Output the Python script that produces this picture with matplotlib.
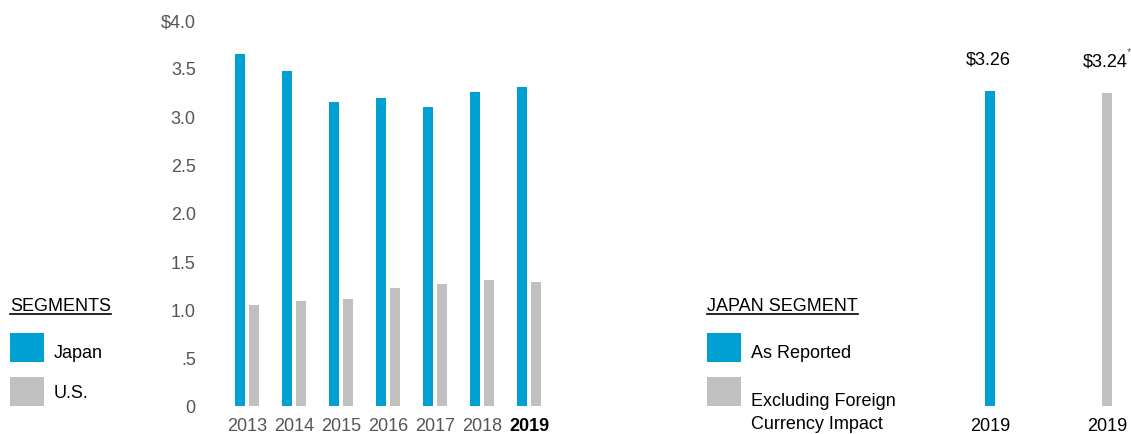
import matplotlib
matplotlib.use("Agg")
import matplotlib.pyplot as plt
from matplotlib.patches import Rectangle
from matplotlib.lines import Line2D
import numpy as np

plt.rcParams['font.family'] = ['Liberation Sans', 'DejaVu Sans']

years = ['2013', '2014', '2015', '2016', '2017', '2018', '2019']
japan = [3.65, 3.47, 3.15, 3.19, 3.10, 3.25, 3.30]
us = [1.05, 1.09, 1.11, 1.22, 1.26, 1.30, 1.28]
y_ticks = [0, 0.5, 1.0, 1.5, 2.0, 2.5, 3.0, 3.5, 4.0]
y_labels = ['0', '.5', '1.0', '1.5', '2.0', '2.5', '3.0', '3.5', '$4.0']

japan_2019 = ['2019', '2019']
japan_2019_vals = [3.26, 3.24]
japan_2019_labels = ['$3.26', '$3.24']

BLUE = '#00a0d2'
GRAY = '#c0c0c0'
TICK = '#555555'

W, H = 1131, 435
fig = plt.figure(figsize=(W / 100, H / 100), dpi=100)


def fx(px):
    return px / W


def fy(py):
    return 1 - py / H


# left chart
y0, y4 = 407, 20.7
ax = fig.add_axes([fx(200), fy(y0), fx(352.5), (y0 - y4) / H])
x = np.arange(len(years))
ax.bar(x - 0.149, japan, width=0.213, color=BLUE)
ax.bar(x + 0.149, us, width=0.213, color=GRAY)
ax.set_xlim(-1, 6.5)
ax.set_ylim(0, 4)
ax.set_yticks(y_ticks)
ax.set_yticklabels(y_labels)
ax.set_xticks(x)
ax.set_xticklabels(years)
ax.tick_params(length=0, labelsize=13, colors=TICK)
ax.tick_params(axis='y', pad=3)
ax.tick_params(axis='x', pad=8)
last = ax.get_xticklabels()[-1]
last.set_color('black')
last.set_fontweight('bold')
for s in ax.spines.values():
    s.set_visible(False)

# right chart
ax2 = fig.add_axes([fx(950), fy(y0), fx(181), (y0 - y4) / H])
x2 = np.arange(len(japan_2019_vals))
ax2.bar(x2, japan_2019_vals, width=0.0855, color=[BLUE, GRAY])
ax2.set_xlim(-0.342, 1.205)
ax2.set_ylim(0, 4)
ax2.set_yticks([])
ax2.set_xticks(x2)
ax2.set_xticklabels(japan_2019)
ax2.tick_params(length=0, labelsize=13, colors='black', pad=8)
for s in ax2.spines.values():
    s.set_visible(False)
for xi, v, lab in zip(x2, japan_2019_vals, japan_2019_labels):
    ax2.annotate(lab, (xi, v), xytext=(-1, 23), textcoords='offset points',
                 ha='center', va='center', fontsize=13, color='black')
ax2.annotate('*', (1, japan_2019_vals[1]), xytext=(16, 30), textcoords='offset points',
             ha='center', va='center', fontsize=8, color=TICK)


# legends
def legend_block(x0, title, items, ty):
    t = fig.text(fx(x0), fy(ty), title, fontsize=13, color='black',
                 ha='left', va='center')
    fig.canvas.draw()
    bb = t.get_window_extent()
    uy = fy(ty + 8)
    fig.add_artist(Line2D([bb.x0 / W, bb.x1 / W], [uy, uy], color='black', lw=1.2))
    for (col, label, top, ly) in items:
        fig.add_artist(Rectangle((fx(x0), fy(top + 29)), fx(34), 29 / H,
                                 facecolor=col, edgecolor='none'))
        fig.text(fx(x0 + 44), fy(ly), label, fontsize=13, color='black',
                 ha='left', va='center', linespacing=1.4)


legend_block(10, 'SEGMENTS', [(BLUE, 'Japan', 334, 354), (GRAY, 'U.S.', 378, 394)], 307)
legend_block(707, 'JAPAN SEGMENT',
             [(BLUE, 'As Reported', 334, 354),
              (GRAY, 'Excluding Foreign\nCurrency Impact', 378, 413)], 307)

fig.savefig('out.png', dpi=100)
